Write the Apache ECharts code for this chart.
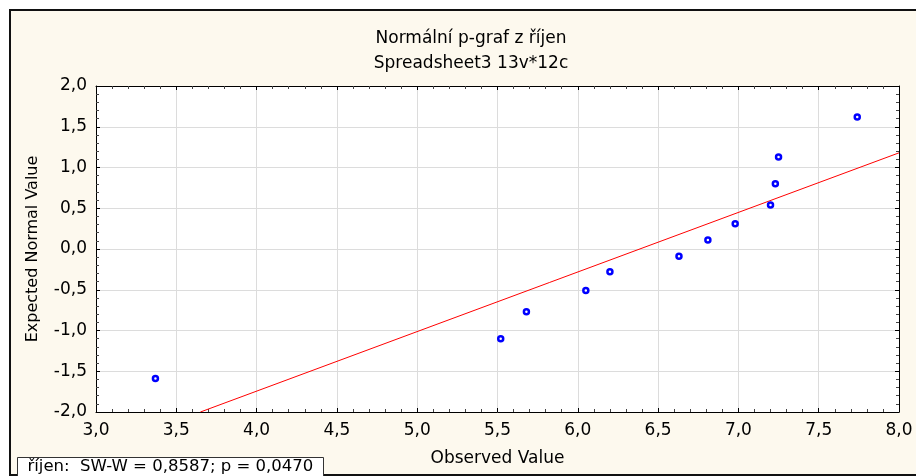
<!DOCTYPE html>
<html>
<head>
<meta charset="utf-8">
<script src="https://cdn.jsdelivr.net/npm/echarts@6/dist/echarts.min.js"></script>
<style>
  html, body { margin: 0; padding: 0; background: #fff; }
  #main { width: 916px; height: 476px; }
</style>
</head>
<body>
<div id="main"></div>
<script>
// pozorované hodnoty (x) a očekávané normální hodnoty (y)
var observed = [3.37, 5.52, 5.68, 6.05, 6.20, 6.63, 6.81, 6.98, 7.20, 7.23, 7.25, 7.74];
var expected = [-1.59, -1.10, -0.77, -0.51, -0.28, -0.09, 0.11, 0.31, 0.54, 0.80, 1.13, 1.62];
// koncové body proložené přímky
var lineX = [3.65, 8.0];
var lineY = [-2.0, 1.18];

var titleText = 'Normální p-graf z říjen';
var subText = 'Spreadsheet3 13v*12c';
var statsText = 'říjen:  SW-W = 0,8587; p = 0,0470';

var points = observed.map(function (v, i) { return [v, expected[i]]; });
var linePts = lineX.map(function (v, i) { return [v, lineY[i]]; });

var fmt = function (v) { return v.toFixed(1).replace('.', ','); };
var font = 'DejaVu Sans, Liberation Sans, sans-serif';

var myChart = echarts.init(document.getElementById('main'));

var baseX = {
  type: 'value', min: 3, max: 8, interval: 0.5,
  axisLine: { show: true, onZero: false, lineStyle: { color: '#000', width: 1 } },
  axisTick: { show: true, inside: true, length: 4, lineStyle: { color: '#000' } },
  minorTick: { show: true, splitNumber: 5, length: 3, lineStyle: { color: '#444' } },
  splitLine: { show: false }
};
var baseY = {
  type: 'value', min: -2, max: 2, interval: 0.5,
  axisLine: { show: true, onZero: false, lineStyle: { color: '#000', width: 1 } },
  axisTick: { show: true, inside: true, length: 4, lineStyle: { color: '#000' } },
  minorTick: { show: true, splitNumber: 5, length: 3, lineStyle: { color: '#444' } },
  splitLine: { show: false }
};

var option = {
  backgroundColor: '#fff',
  animation: false,
  graphic: [
    {
      type: 'rect', z: -10,
      shape: { x: 10, y: 10, width: 920, height: 465 },
      style: { fill: '#fdf9ee', stroke: '#111', lineWidth: 2 }
    },
    {
      type: 'group', left: 17, top: 457,
      children: [
        { type: 'rect', shape: { x: 0, y: 0, width: 306, height: 24 },
          style: { fill: '#fff', stroke: '#333', lineWidth: 1 } },
        { type: 'text', left: 10, top: 1,
          style: { text: statsText, font: '16.5px ' + font, fill: '#000' } }
      ]
    }
  ],
  title: {
    text: titleText,
    subtext: subText,
    left: 466, top: 25, textAlign: 'center', itemGap: 8,
    textStyle: { fontFamily: font, fontSize: 17, fontWeight: 'normal', color: '#000' },
    subtextStyle: { fontFamily: font, fontSize: 17, color: '#000' }
  },
  grid: { left: 96, right: 17, top: 86, bottom: 64, show: true, backgroundColor: '#fff', borderWidth: 0 },
  xAxis: [
    Object.assign({}, baseX, {
      position: 'bottom',
      name: 'Observed Value', nameLocation: 'middle', nameGap: 38,
      nameTextStyle: { fontFamily: font, fontSize: 17, color: '#000' },
      axisLabel: { formatter: fmt, fontFamily: font, fontSize: 17, color: '#000', margin: 10 },
      splitLine: { show: true, lineStyle: { color: '#dcdcdc', width: 1 } }
    }),
    Object.assign({}, baseX, { position: 'top', axisLabel: { show: false } })
  ],
  yAxis: [
    Object.assign({}, baseY, {
      position: 'left',
      name: 'Expected Normal Value', nameLocation: 'middle', nameGap: 55,
      nameTextStyle: { fontFamily: font, fontSize: 16, color: '#000' },
      axisLabel: { formatter: fmt, fontFamily: font, fontSize: 17, color: '#000', margin: 9 },
      splitLine: { show: true, lineStyle: { color: '#dcdcdc', width: 1 } }
    }),
    Object.assign({}, baseY, { position: 'right', axisLabel: { show: false } })
  ],
  series: [
    {
      type: 'line', data: linePts, symbol: 'none',
      lineStyle: { color: '#ff0000', width: 1 }, silent: true, z: 2
    },
    {
      type: 'scatter', data: points, symbol: 'circle', symbolSize: 5,
      itemStyle: { color: '#fff', borderColor: '#0000ff', borderWidth: 2.5, opacity: 1 },
      z: 3
    }
  ]
};

myChart.setOption(option);
</script>
</body>
</html>
